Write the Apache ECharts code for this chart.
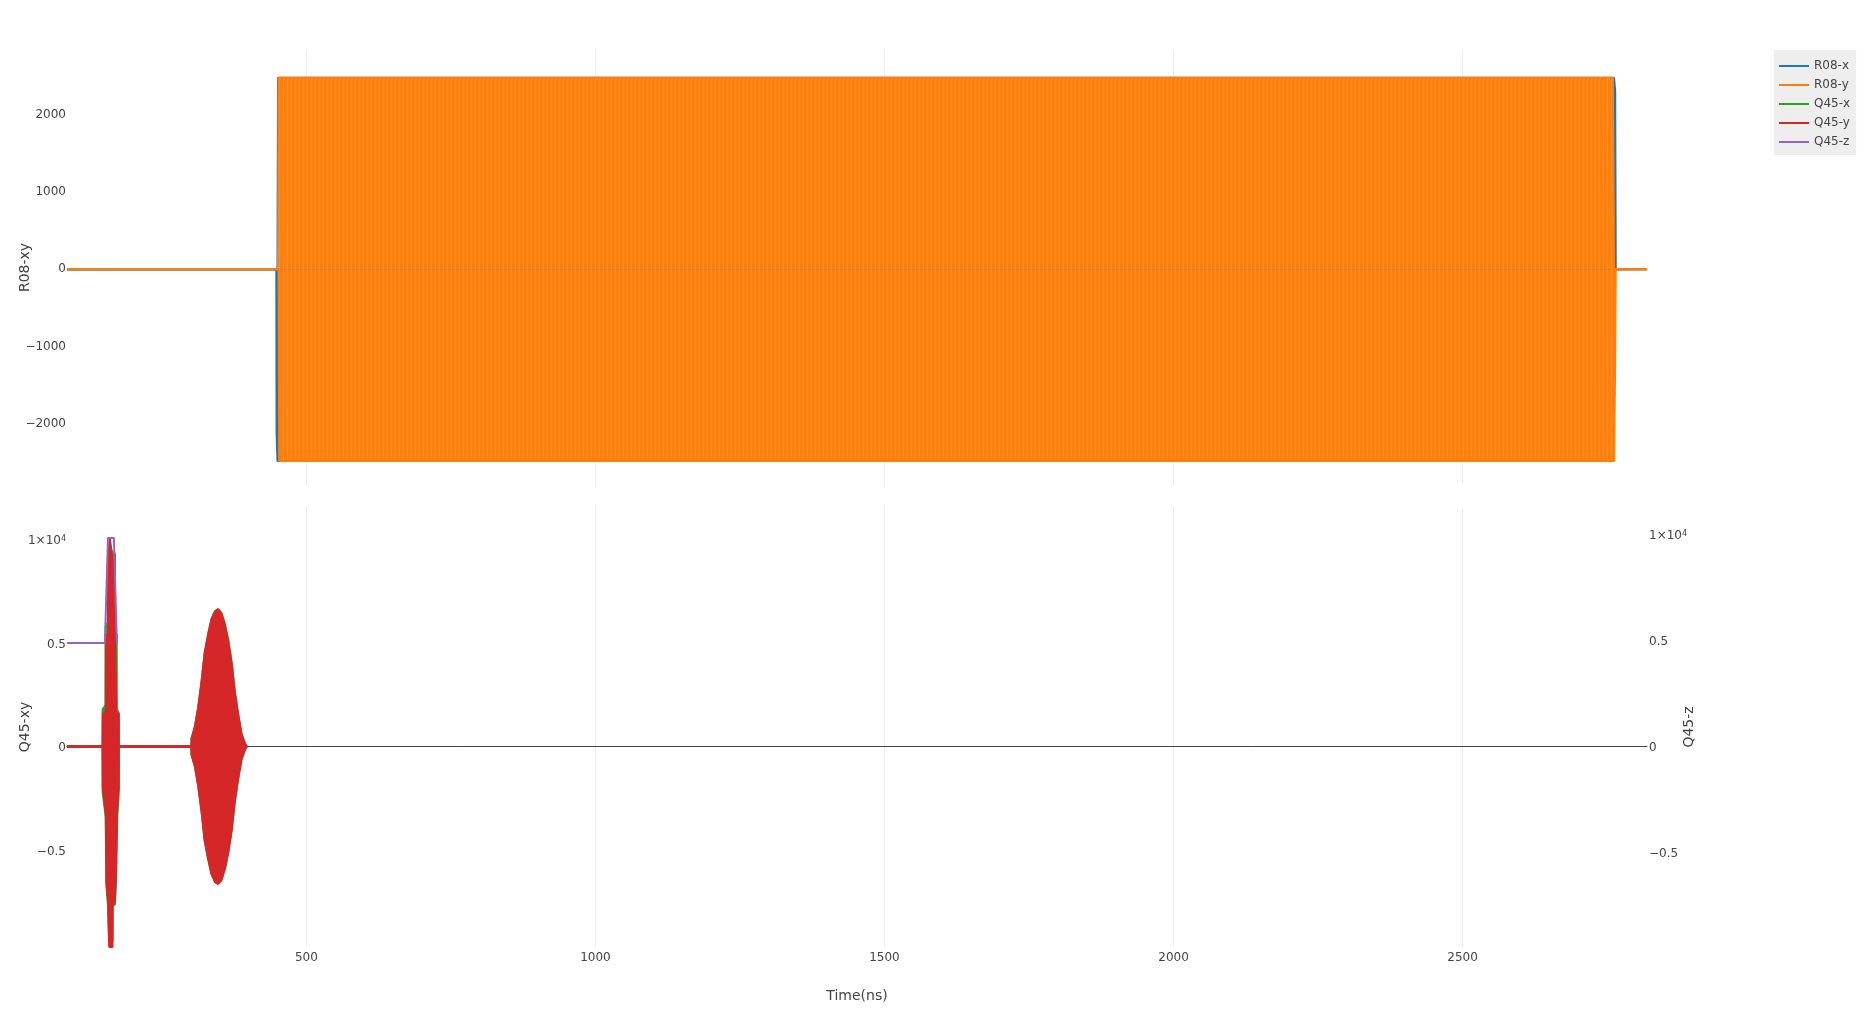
<!DOCTYPE html>
<html>
<head>
<meta charset="utf-8">
<script src="https://cdn.jsdelivr.net/npm/echarts@6/dist/echarts.min.js"></script>
<style>
html,body{margin:0;padding:0;background:#fff;}
#chart{width:1870px;height:1028px;}
</style>
</head>
<body>
<div id="chart"></div>
<script>
// ---- data (time in ns) ----
const seriesNames = ['R08-x', 'R08-y', 'Q45-x', 'Q45-y', 'Q45-z'];
const xTicks = [500, 1000, 1500, 2000, 2500];
const topTicks = [-2000, -1000, 0, 1000, 2000];
const bottomTicks = [-0.5, 0, 0.5, 1];

// R08 readout drive: dense carrier, drawn by its envelope (upper / lower)
const R08x_upper = [[86,0],[450,0],[451,2475],[2762,2475],[2764,2308],[2765,0],[2819,0]];
const R08x_lower = [[86,0],[448,0],[448.5,-2115],[450,-2480],[2759,-2480],[2763,0],[2819,0]];
const R08y_upper = [[86,0],[451,0],[452,2475],[2760,2475],[2762,0],[2819,0]];
const R08y_lower = [[86,0],[452,0],[453,-2480],[2762,-2480],[2764,-1190],[2765,0],[2819,0]];

// Q45 XY drive: two pulses, drawn by their envelopes
const Q45y_upper = [[86,0],[147.6,0],[148,0.16],[153,0.16],[153.2,0.54],[157,0.54],[157.2,0.92],[160,0.92],[160.2,1.0],[163.5,1.0],[163.7,0.92],[168.6,0.92],[168.8,0.54],[171.5,0.54],[171.7,0.16],[175.3,0.16],[175.6,0],
  [301,0],[301.5,0.04],[307,0.093],[313,0.19],[319,0.32],[324,0.45],[330,0.54],[336,0.615],[342,0.652],[347,0.662],[353,0.644],[359,0.59],[365,0.51],[371,0.40],[376,0.27],[382,0.157],[388,0.06],[394,0.013],[397,0]];
const Q45y_lower = [[86,0],[147.6,0],[148,-0.2],[153,-0.32],[154.3,-0.64],[157,-0.75],[158.9,-0.75],[159,-0.966],[164.8,-0.966],[165,-0.75],[168.6,-0.75],[170.4,-0.64],[172.6,-0.32],[175.3,-0.2],[175.6,0],
  [301,0],[301.5,-0.04],[307,-0.093],[313,-0.19],[319,-0.32],[324,-0.45],[330,-0.54],[336,-0.615],[342,-0.652],[347,-0.662],[353,-0.644],[359,-0.59],[365,-0.51],[371,-0.40],[376,-0.27],[382,-0.157],[388,-0.06],[394,-0.013],[397,0]];
const Q45x_upper = [[86,0],[147.2,0],[147.6,0.18],[152.6,0.2],[152.8,0.58],[156.8,0.6],[157,0.94],[160,0.95],[160.2,0.98],[163.5,0.98],[163.7,0.94],[169,0.93],[169.2,0.56],[172,0.54],[172.2,0.18],[175.8,0.16],[176,0],
  [301,0],[301.5,0.04],[307,0.093],[313,0.19],[319,0.32],[324,0.45],[330,0.54],[336,0.615],[342,0.652],[347,0.662],[353,0.644],[359,0.59],[365,0.51],[371,0.40],[376,0.27],[382,0.157],[388,0.06],[394,0.013],[397,0]];
const Q45x_lower = [[86,0],[147.2,0],[147.6,-0.22],[153,-0.34],[153.8,-0.66],[157,-0.77],[158.6,-0.77],[158.8,-0.94],[164.6,-0.94],[165,-0.77],[169,-0.76],[170.8,-0.64],[173,-0.34],[175.8,-0.2],[176,0],
  [301,0],[301.5,-0.04],[307,-0.093],[313,-0.19],[319,-0.32],[324,-0.45],[330,-0.54],[336,-0.615],[342,-0.652],[347,-0.662],[353,-0.644],[359,-0.59],[365,-0.51],[371,-0.40],[376,-0.27],[382,-0.157],[388,-0.06],[394,-0.013],[397,0]];

// Q45 Z flux pulse (right axis)
const Q45z = [[86,0.488],[151.6,0.488],[156.8,0.983],[167.1,0.983],[172.3,0.488],[174,0.488]];

// ---- chart ----
const FONT = '"DejaVu Sans", Verdana, sans-serif';
const TXT = '#444';
const colors = {'R08-x':'#1f77b4','R08-y':'#ff7f0e','Q45-x':'#2ca02c','Q45-y':'#d62728','Q45-z':'#9467bd'};

// fine vertical stripe texture suggesting the dense carrier of the R08-y trace
function stripeTexture(){
  const c = document.createElement('canvas');
  c.width = 4; c.height = 8;
  const g = c.getContext('2d');
  g.fillStyle = colors['R08-y'];
  g.fillRect(0, 0, 3, 8);
  g.fillStyle = 'rgba(255,255,255,0.45)';
  g.fillRect(3, 0, 1, 8);
  return c;
}

function minusFmt(v){ return v < 0 ? '\u2212' + String(Math.abs(v)) : String(v); }
function bottomFmt(v){ return v === 1 ? '{m|1\u00d710}{s|4}' : minusFmt(v); }

function band(name, data, gi, z, origin, areaColor){
  const c = colors[name];
  return {type:'line', name, xAxisIndex:gi, yAxisIndex:gi, data, symbol:'none', silent:true,
    lineStyle:{color:c, width:2}, itemStyle:{color:c},
    areaStyle:{color: areaColor || c, opacity: 1, origin}, z};
}

const richLabel = {m:{fontSize:12, color:TXT, fontFamily:FONT}, s:{fontSize:8, color:TXT, fontFamily:FONT, verticalAlign:'top'}};
const stripes = {image: stripeTexture(), repeat: 'repeat'};
const nameStyle = {fontSize:14, color:TXT, fontFamily:FONT};

const option = {
  animation:false,
  textStyle:{fontFamily:FONT, color:TXT},
  grid:[
    {left:67, top:50, width:1580, height:435, containLabel:false, outerBoundsMode:'none'},
    {left:67, top:507, width:1580, height:440, containLabel:false, outerBoundsMode:'none'}
  ],
  legend:{
    data:seriesNames, orient:'vertical', left:1774, top:50,
    icon:'rect', itemWidth:30, itemHeight:2, itemGap:5,
    padding:[9,6,6,5], backgroundColor:'#eeeeee',
    textStyle:{fontSize:12, color:TXT, fontFamily:FONT, lineHeight:14}
  },
  xAxis:[
    {gridIndex:0, type:'value', min:86, max:2819,
     axisLine:{show:false},
     axisTick:{show:false, customValues:xTicks},
     axisLabel:{show:false, customValues:xTicks},
     splitLine:{show:true, lineStyle:{color:'#eeeeee', width:1}}},
    {gridIndex:1, type:'value', min:86, max:2819,
     axisLine:{show:true, onZero:true, lineStyle:{color:TXT, width:1}},
     axisTick:{show:false, customValues:xTicks},
     axisLabel:{show:true, customValues:xTicks, formatter:v => String(v), color:TXT, fontSize:12, margin:5, fontFamily:FONT},
     splitLine:{show:true, lineStyle:{color:'#eeeeee', width:1}},
     name:'Time(ns)', nameLocation:'middle', nameGap:42, nameMoveOverlap:false,
     nameTextStyle:nameStyle}
  ],
  yAxis:[
    {gridIndex:0, type:'value', min:-2789, max:2835,
     axisLine:{show:false}, axisTick:{show:false}, splitLine:{show:false},
     axisLabel:{customValues:topTicks, formatter:minusFmt, color:TXT, fontSize:12, margin:1, padding:[3,0,0,0], fontFamily:FONT},
     name:'R08-xy', nameLocation:'middle', nameGap:35, nameRotate:90, nameMoveOverlap:false,
     nameTextStyle:nameStyle},
    {gridIndex:1, type:'value', min:-0.966, max:1.155,
     axisLine:{show:false}, axisTick:{show:false}, splitLine:{show:false},
     axisLabel:{customValues:bottomTicks, formatter:bottomFmt, rich:richLabel, color:TXT, fontSize:12, margin:1, padding:[3,0,0,0], fontFamily:FONT},
     name:'Q45-xy', nameLocation:'middle', nameGap:35, nameRotate:90, nameMoveOverlap:false,
     nameTextStyle:nameStyle},
    {gridIndex:1, type:'value', position:'right', min:-0.944, max:1.129,
     axisLine:{show:false}, axisTick:{show:false}, splitLine:{show:false},
     axisLabel:{customValues:bottomTicks, formatter:bottomFmt, rich:richLabel, color:TXT, fontSize:12, margin:2, padding:[3,0,0,0], fontFamily:FONT},
     name:'Q45-z', nameLocation:'middle', nameGap:35, nameRotate:90, nameMoveOverlap:false,
     nameTextStyle:nameStyle}
  ],
  series:[
    band('R08-x', R08x_upper, 0, 2, -15),
    band('R08-x', R08x_lower, 0, 2, 15),
    band('R08-y', R08y_upper, 0, 3, 0, stripes),
    band('R08-y', R08y_lower, 0, 3, 0, stripes),
    band('Q45-x', Q45x_upper, 1, 2, -0.006),
    band('Q45-x', Q45x_lower, 1, 2, 0.006),
    band('Q45-y', Q45y_upper, 1, 3, -0.006),
    band('Q45-y', Q45y_lower, 1, 3, 0.006),
    {type:'line', name:'Q45-z', xAxisIndex:1, yAxisIndex:2, data:Q45z, symbol:'none', silent:true,
     lineStyle:{color:colors['Q45-z'], width:2}, itemStyle:{color:colors['Q45-z']}, z:4}
  ]
};

const chart = echarts.init(document.getElementById('chart'), null, {renderer:'canvas'});
chart.setOption(option);
</script>
</body>
</html>
